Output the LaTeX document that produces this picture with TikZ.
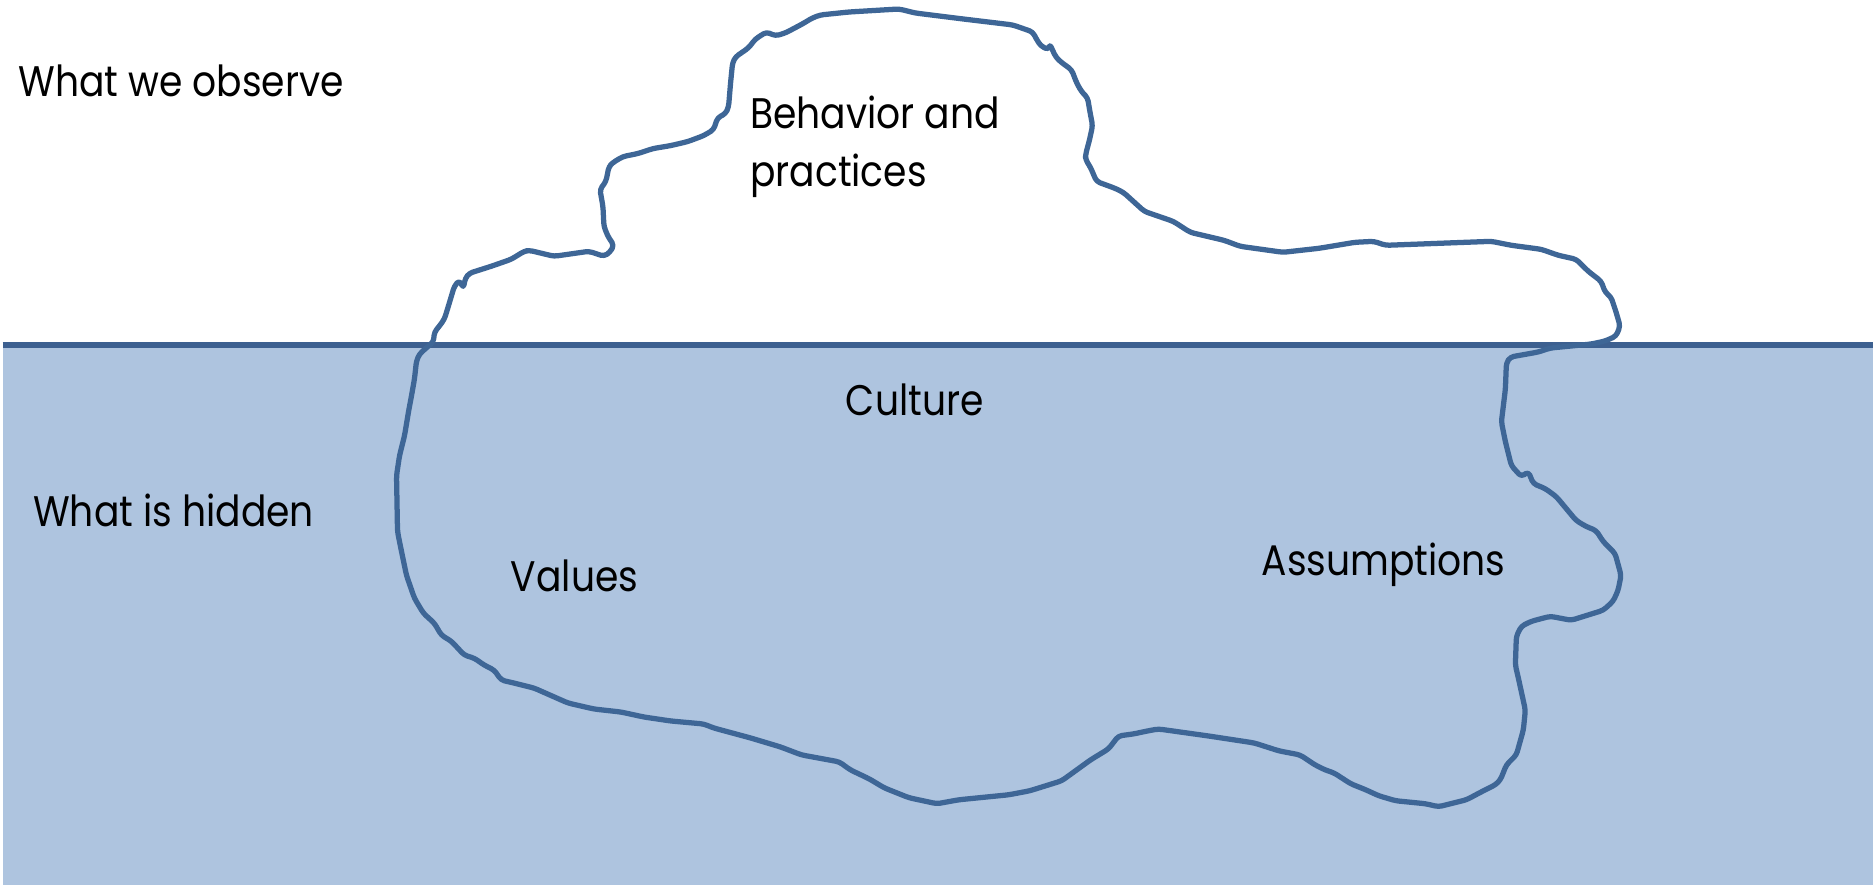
\documentclass[tikz,border=0pt]{standalone}
\usepackage{fontspec}
\setmainfont{Poppins}[FakeStretch=0.88]
\usepackage{tikz}
\definecolor{water}{HTML}{AEC4DF}
\definecolor{waterline}{HTML}{3D6090}
\definecolor{bergline}{HTML}{3E6696}

\begin{document}
\begin{tikzpicture}[x=0.01cm, y=-0.01cm,
    tag/.style={anchor=base west, inner sep=0pt, font=\fontsize{12.2}{14}\selectfont},
    berg/.style={draw=bergline, line width=1.5pt, line join=round, rounded corners=1pt}]

    % page and sea
    \fill[white] (0,0) rectangle (1876,887);
    \fill[water] (0,346) rectangle (1876,887);
    \coordinate (wl) at (0,346);
    \coordinate (wr) at (1876,346);
    \draw[waterline, line width=1.5pt] (wl) -- (wr);

    % the iceberg
    \draw[berg] (427,347) -- (432,343) -- (433,333) -- (438,327) -- (443,320) -- (447,307)
        -- (450,297) -- (453,287) -- (458,281) -- (462,289) -- (464,279) -- (468,274)
        -- (490,267) -- (510,260) -- (523,252) -- (528,251) -- (553,257) -- (588,252)
        -- (603,257) -- (609,253) -- (613,246) -- (607,237) -- (603,227) -- (602,207)
        -- (599,190) -- (605,182) -- (608,167) -- (612,163) -- (622,157) -- (637,154)
        -- (652,149) -- (670,146) -- (687,142) -- (703,136) -- (713,130) -- (717,118)
        -- (725,114) -- (728,107) -- (730,83) -- (732,63) -- (735,57) -- (748,48)
        -- (755,39) -- (766,32) -- (775,36) -- (785,33) -- (802,24) -- (812,18)
        -- (820,15) -- (849,12) -- (899,9) -- (915,13) -- (963,19) -- (1013,25)
        -- (1033,32) -- (1036,38) -- (1041,46) -- (1049,50) -- (1050,44) -- (1056,57)
        -- (1061,62) -- (1072,70) -- (1077,83) -- (1082,92) -- (1088,98) -- (1090,110)
        -- (1093,126) -- (1090,140) -- (1086,155) -- (1086,160) -- (1091,168) -- (1097,182)
        -- (1116,189) -- (1124,193) -- (1145,212) -- (1174,222) -- (1191,233) -- (1225,241)
        -- (1241,247) -- (1284,253) -- (1320,249) -- (1356,243) -- (1375,242) -- (1387,246)
        -- (1440,244) -- (1493,242) -- (1513,246) -- (1543,250) -- (1560,256) -- (1578,260)
        -- (1590,272) -- (1603,282) -- (1607,293) -- (1613,298) -- (1618,313) -- (1622,327)
        -- (1618,337) -- (1607,342) -- (1593,345) -- (1552,349) -- (1540,353) -- (1512,358)
        -- (1508,364) -- (1507,390) -- (1503,423) -- (1507,443) -- (1513,467) -- (1523,478)
        -- (1530,473) -- (1535,485) -- (1547,490) -- (1558,498) -- (1578,522) -- (1588,528)
        -- (1598,532) -- (1605,543) -- (1617,555) -- (1623,577) -- (1620,592) -- (1615,603)
        -- (1605,612) -- (1573,622) -- (1552,618) -- (1533,623) -- (1523,628) -- (1518,638)
        -- (1517,667) -- (1520,680) -- (1527,712) -- (1525,732) -- (1518,757) -- (1508,767)
        -- (1502,782) -- (1497,787) -- (1483,794) -- (1468,802) -- (1440,809) -- (1427,806)
        -- (1397,803) -- (1380,798) -- (1367,792) -- (1352,786) -- (1335,775) -- (1326,772)
        -- (1316,767) -- (1301,757) -- (1280,753) -- (1255,745) -- (1209,738) -- (1159,731)
        -- (1148,733) -- (1134,736) -- (1119,738) -- (1109,751) -- (1091,762) -- (1062,783)
        -- (1030,793) -- (1009,797) -- (959,802) -- (937,806) -- (909,800) -- (884,790)
        -- (869,781) -- (850,772) -- (839,764) -- (801,757) -- (780,749) -- (750,740)
        -- (713,730) -- (703,726) -- (670,723) -- (643,719) -- (620,714) -- (593,711)
        -- (567,705) -- (533,690) -- (513,685) -- (500,682) -- (493,672) -- (483,667)
        -- (473,660) -- (463,657) -- (450,643) -- (440,637) -- (433,625) -- (422,615)
        -- (413,600) -- (405,577) -- (400,553) -- (396,533) -- (395,477) -- (398,457)
        -- (403,437) -- (407,413) -- (410,397) -- (413,380) -- (415,362) -- (418,355)
        -- cycle;

    % labels
    \node[tag] (observe) at (15,97) {What we observe};
    \node[tag] (hidden) at (30,528) {What is hidden};
    \node[tag] (behavior) at (749,129) {Behavior and};
    \node[tag] (practices) at (749,187) {practices};
    \node[tag] (culture) at (845,417) {Culture};
    \node[tag] (values) at (509,593) {Values};
    \node[tag] (assume) at (1262,577) {Assumptions};
\end{tikzpicture}
\end{document}
